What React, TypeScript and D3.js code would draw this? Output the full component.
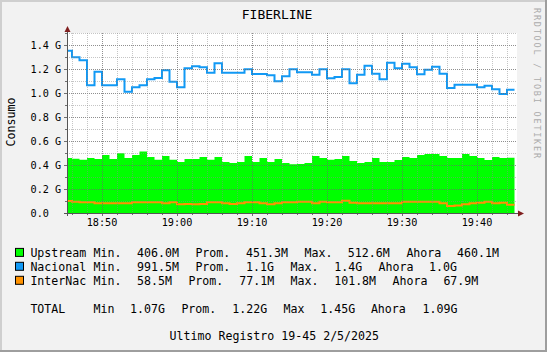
import React from "react";
import * as d3 from "d3";

// ---- data (values in G, one sample per minute, each sample covers the minute ending at its time) ----
const firstSample = "2025-05-02T18:46:00";
const viewStart = "2025-05-02T18:45:20";
const viewEnd = "2025-05-02T19:45:20";

const upstream = [
  0.458, 0.453, 0.444, 0.458, 0.45, 0.483, 0.45, 0.497, 0.458, 0.483,
  0.5126, 0.467, 0.444, 0.475, 0.444, 0.425, 0.45, 0.45, 0.467, 0.444,
  0.467, 0.425, 0.417, 0.425, 0.475, 0.425, 0.458, 0.425, 0.45, 0.417,
  0.406, 0.408, 0.417, 0.475, 0.458, 0.444, 0.45, 0.475, 0.433, 0.417,
  0.425, 0.458, 0.425, 0.425, 0.442, 0.467, 0.458, 0.483, 0.492, 0.492,
  0.475, 0.458, 0.458, 0.492, 0.475, 0.458, 0.442, 0.467, 0.458, 0.4601,
];
const nacional = [
  1.353, 1.297, 1.272, 1.064, 1.178, 1.064, 1.064, 1.114, 1.011, 1.047,
  1.064, 1.114, 1.125, 1.189, 1.094, 1.047, 1.206, 1.222, 1.214, 1.169,
  1.247, 1.169, 1.169, 1.169, 1.197, 1.158, 1.158, 1.147, 1.097, 1.139,
  1.197, 1.172, 1.172, 1.153, 1.197, 1.122, 1.133, 1.197, 1.081, 1.153,
  1.228, 1.161, 1.114, 1.253, 1.206, 1.244, 1.214, 1.156, 1.194, 1.219,
  1.161, 1.042, 1.069, 1.069, 1.069, 1.047, 1.061, 1.031, 0.9915, 1.028,
];
const internac = [
  0.1, 0.094, 0.089, 0.089, 0.081, 0.081, 0.081, 0.081, 0.081, 0.089,
  0.089, 0.089, 0.089, 0.081, 0.089, 0.072, 0.075, 0.072, 0.075, 0.089,
  0.089, 0.081, 0.075, 0.081, 0.089, 0.089, 0.081, 0.072, 0.081, 0.089,
  0.089, 0.094, 0.094, 0.081, 0.094, 0.089, 0.089, 0.1018, 0.086, 0.081,
  0.081, 0.081, 0.081, 0.081, 0.081, 0.094, 0.094, 0.094, 0.094, 0.094,
  0.081, 0.0585, 0.062, 0.072, 0.081, 0.086, 0.094, 0.081, 0.086, 0.0679,
];

const yMajorTicks = [0, 0.2, 0.4, 0.6, 0.8, 1.0, 1.2, 1.4];
const yTickLabels = ["0.0", "0.2 G", "0.4 G", "0.6 G", "0.8 G", "1.0 G", "1.2 G", "1.4 G"];
const yMinorTicks = [0.1, 0.3, 0.5, 0.7, 0.9, 1.1, 1.3, 1.5];

const title = "FIBERLINE";
const yLabel = "Consumo";
const watermark = "RRDTOOL / TOBI OETIKER";
const footer = "Ultimo Registro 19-45 2/5/2025";

const legendRows = [
  { color: "#00FF00", items: ["Upstream", "Min.", "406.0M", "Prom.", "451.3M", "Max.", "512.6M", "Ahora", "460.1M"] },
  { color: "#1199F5", items: ["Nacional", "Min.", "991.5M", "Prom.", "1.1G", "Max.", "1.4G", "Ahora", "1.0G"] },
  { color: "#FF9200", items: ["InterNac", "Min.", "58.5M", "Prom.", "77.1M", "Max.", "101.8M", "Ahora", "67.9M"] },
  { color: null, items: ["TOTAL", "Min", "1.07G", "Prom.", "1.22G", "Max", "1.45G", "Ahora", "1.09G"] },
];
const legendX = [
  [30.4, 93.5, 137.1, 195.4, 246, 304.6, 347.8, 406.4, 457],
  [30.4, 93.5, 137.1, 195.4, 246, 290.6, 334.2, 378.5, 429],
  [30.4, 93.5, 137.1, 188.4, 239.3, 290.6, 334.2, 392.5, 443.4],
  [30.4, 93.5, 130.1, 181.4, 232.3, 283.6, 320.3, 370.9, 422.5],
];
const legendY = [256.6, 270.5, 284.5, 312.5];

const W = 547;
const H = 352;
const PL = 67, PR = 517, PT = 33, PB = 213;
const MONO = "'DejaVu Sans Mono', monospace";

export default function App() {
  const parse = (s: string) => new Date(s);
  const t0 = parse(firstSample);
  const times = upstream.map((_, i) => d3.timeMinute.offset(t0, i));
  const lead = d3.timeMinute.offset(t0, -1);

  const x = d3.scaleTime().domain([parse(viewStart), parse(viewEnd)]).range([PL, PR]);
  const y = d3.scaleLinear().domain([0, 1.5]).range([PB, PT]);

  const mk = (vals: number[]) => [{ t: lead, v: vals[0] }, ...vals.map((v, i) => ({ t: times[i], v }))];

  const area = d3.area<{ t: Date; v: number }>()
    .x(d => x(d.t)).y0(y(0)).y1(d => y(d.v)).curve(d3.curveStepBefore);
  const line = d3.line<{ t: Date; v: number }>()
    .x(d => x(d.t)).y(d => y(d.v)).curve(d3.curveStepBefore);

  const minorX = x.ticks(d3.timeMinute.every(2)!).filter(t => t.getMinutes() % 10 !== 0);
  const majorX = x.ticks(d3.timeMinute.every(10)!);
  const fmt = d3.timeFormat("%H:%M");
  const px = (v: number) => Math.round(v) + 0.5;

  const minorGrid = "rgba(140,140,140,0.5)";
  const majorGrid = "rgba(105,105,105,0.75)";

  return (
    <svg width={W} height={H} style={{ display: "block", position: "absolute", left: 0, top: 0 }}>
      <defs>
        <clipPath id="plotclip">
          <rect x={PL} y={PT - 2} width={PR - PL} height={PB - PT + 2} />
        </clipPath>
      </defs>
      <rect x={0} y={0} width={W} height={H} fill="#F2F2F2" />
      {/* 3D frame */}
      <rect x={0} y={0} width={W} height={2} fill="#CFCFCF" />
      <rect x={0} y={0} width={2} height={H} fill="#CFCFCF" />
      <rect x={0} y={H - 2} width={W} height={2} fill="#9E9E9E" />
      <rect x={W - 2} y={0} width={2} height={H} fill="#9E9E9E" />

      <rect x={PL} y={PT} width={PR - PL} height={PB - PT} fill="#FFFFFF" />

      <g clipPath="url(#plotclip)">
        <path d={area(mk(upstream)) || ""} fill="#00FF00" />
        <path d={line(mk(internac)) || ""} fill="none" stroke="#FF9200" strokeWidth={2} />
        <path d={line(mk(nacional)) || ""} fill="none" stroke="#1199F5" strokeWidth={2} />
      </g>

      {/* grid */}
      <g strokeDasharray="1,1" strokeWidth={1}>
        {yMinorTicks.map(v => (
          <line key={"ym" + v} x1={PL} x2={PR} y1={px(y(v))} y2={px(y(v))} stroke={minorGrid} />
        ))}
        {yMajorTicks.filter(v => v > 0).map(v => (
          <line key={"yM" + v} x1={PL} x2={PR} y1={px(y(v))} y2={px(y(v))} stroke={majorGrid} />
        ))}
        {minorX.map(t => (
          <line key={"xm" + +t} x1={px(x(t))} x2={px(x(t))} y1={PT} y2={PB} stroke={minorGrid} />
        ))}
        {majorX.map(t => (
          <line key={"xM" + +t} x1={px(x(t))} x2={px(x(t))} y1={PT} y2={PB} stroke={majorGrid} />
        ))}
      </g>

      {/* ticks */}
      <g stroke="#707070" strokeWidth={1}>
        {yMajorTicks.map(v => (
          <line key={"yt" + v} x1={PL - 3} x2={PL} y1={px(y(v))} y2={px(y(v))} />
        ))}
        {yMinorTicks.map(v => (
          <line key={"ytm" + v} x1={PL - 2} x2={PL} y1={px(y(v))} y2={px(y(v))} />
        ))}
        {majorX.map(t => (
          <line key={"xt" + +t} x1={px(x(t))} x2={px(x(t))} y1={PB} y2={PB + 3} />
        ))}
        {minorX.map(t => (
          <line key={"xtm" + +t} x1={px(x(t))} x2={px(x(t))} y1={PB} y2={PB + 2} />
        ))}
      </g>

      {/* axes */}
      <line x1={PL - 3} x2={PR + 2} y1={PB + 0.5} y2={PB + 0.5} stroke="#555" strokeWidth={1} />
      <line x1={PL + 0.5} x2={PL + 0.5} y1={PB + 3} y2={PT - 2} stroke="#555" strokeWidth={1} />
      <path d={`M${PL + 0.5},${PT - 7} L${PL + 3.5},${PT - 1} L${PL - 2.5},${PT - 1} Z`} fill="#801F1F" />
      <path d={`M${PR + 7},${PB + 0.5} L${PR + 1},${PB - 2.5} L${PR + 1},${PB + 3.5} Z`} fill="#801F1F" />

      {/* axis labels */}
      <g fontFamily={MONO} fontSize={10.2} fill="#000">
        {yMajorTicks.map((v, i) => (
          <text key={"yl" + v} x={30.5} y={y(v) + 3.7}>{yTickLabels[i]}</text>
        ))}
        {majorX.map(t => (
          <text key={"xl" + +t} x={x(t)} y={226} textAnchor="middle">{fmt(t)}</text>
        ))}
      </g>

      <text x={277} y={19.3} textAnchor="middle" fontFamily={MONO} fontSize={13} fill="#000">{title}</text>
      <text transform="translate(15.3,122) rotate(-90)" textAnchor="middle" fontFamily={MONO} fontSize={11.6} fill="#000">{yLabel}</text>
      <text transform="translate(534,8) rotate(90)" fontFamily={MONO} fontSize={8.5} fill="#ABABAB"
        textLength={150} lengthAdjust="spacing">{watermark}</text>

      {/* legend */}
      <g fontFamily={MONO} fontSize={11.6} fill="#000" style={{ whiteSpace: "pre" }}>
        {legendRows.map((row, r) => (
          <g key={"lr" + r}>
            {row.color && (
              <rect x={15.5} y={legendY[r] - 8.2} width={8} height={8} fill={row.color} stroke="#000" strokeWidth={1} />
            )}
            {row.items.map((it, k) => (
              <text key={k} x={legendX[r][k]} y={legendY[r]}>{it}</text>
            ))}
          </g>
        ))}
        <text x={169.6} y={340.3}>{footer}</text>
      </g>
    </svg>
  );
}
